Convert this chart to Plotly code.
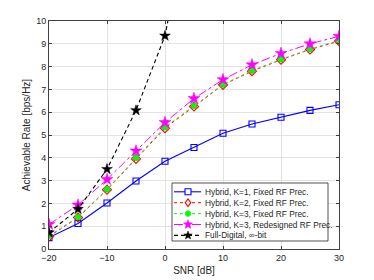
import math
import plotly.graph_objects as go

snr = [-20, -15, -10, -5, 0, 5, 10, 15, 20, 25, 30]
k1_fixed = [0.50, 1.12, 2.02, 2.98, 3.85, 4.45, 5.08, 5.48, 5.78, 6.08, 6.33]
k2_fixed = [0.55, 1.38, 2.60, 3.95, 5.30, 6.25, 7.20, 7.80, 8.30, 8.75, 9.12]
k3_fixed = [0.58, 1.40, 2.62, 4.00, 5.35, 6.28, 7.22, 7.83, 8.32, 8.77, 9.15]
k3_redesigned = [1.08, 1.93, 3.05, 4.30, 5.55, 6.60, 7.43, 8.08, 8.58, 9.00, 9.33]
snr_fd = [-20, -15, -10, -5, 0, 5]
full_digital = [0.72, 1.75, 3.50, 6.08, 9.35, 15.9]

labels = [
    "Hybrid, K=1, Fixed RF Prec.",
    "Hybrid, K=2, Fixed RF Prec.",
    "Hybrid, K=3, Fixed RF Prec.",
    "Hybrid, K=3, Redesigned RF Prec.",
    "Full-Digital, \u221e-bit",
]
x_ticks = [-20, -10, 0, 10, 20, 30]
y_ticks = list(range(0, 11))

BLUE = "#0000ff"
RED = "#ff0000"
GREEN = "#00ff00"
MAG = "#ff00ff"
BLK = "#000000"
FONT = "Liberation Sans, Arial, sans-serif"
TXT = "#262626"
BLACK_DASH = "4px,3px"

fig = go.Figure()
fig.add_trace(go.Scatter(x=snr, y=k1_fixed, mode="lines+markers", name=labels[0],
                         line=dict(color=BLUE, width=1.1),
                         marker=dict(symbol="square-open", size=6, color=BLUE, line=dict(width=1.1))))
fig.add_trace(go.Scatter(x=snr, y=k2_fixed, mode="lines+markers", name=labels[1],
                         line=dict(color=RED, width=1, dash="dot"),
                         marker=dict(symbol="diamond-open", size=7, color=RED, line=dict(width=1.1))))
fig.add_trace(go.Scatter(x=snr, y=k3_fixed, mode="lines+markers", name=labels[2],
                         line=dict(color="#55dd44", width=1, dash="dot"),
                         marker=dict(symbol="circle", size=6, color=GREEN, line=dict(width=0.6, color="#33bb33"))))
fig.add_trace(go.Scatter(x=snr, y=k3_redesigned, mode="lines+markers", name=labels[3],
                         line=dict(color=MAG, width=1, dash="dashdot"),
                         marker=dict(symbol="star", size=9, color=MAG, line=dict(width=0.5, color=MAG))))
fig.add_trace(go.Scatter(x=snr_fd, y=full_digital, mode="lines+markers", name=labels[4],
                         line=dict(color=BLK, width=1.1, dash=BLACK_DASH),
                         marker=dict(symbol="star", size=8, color=BLK, line=dict(width=0.5, color=BLK))))

# The page body has an 8px default margin, so the figure is shrunk by that amount.
OFF = 8
W, H = 374 - OFF, 280 - OFF
# plot area in page pixels: x 49..339, y 21..249
L, R, T, B = 49 - OFF, 374 - 339, 21 - OFF, 280 - 249
pw, ph = W - L - R, H - T - B

def px(x):  # page pixel -> paper
    return (x - OFF - L) / pw

def py(y):
    return (H - B - (y - OFF)) / ph

shapes = []
annotations = []
shapes.append(dict(type="rect", xref="paper", yref="paper",
                   x0=px(172), x1=px(328), y0=py(241), y1=py(183),
                   line=dict(color=TXT, width=0.8), fillcolor="white", layer="above"))

rows = [191.8, 202.7, 213.6, 224.5, 235.4]
styles = [
    (BLUE, "solid", "square", 1.1),
    (RED, "dot", "diamond", 1.0),
    (GREEN, "dot", "circle", 1.0),
    (MAG, "dashdot", "star_m", 1.0),
    (BLK, BLACK_DASH, "star_k", 1.1),
]

def star_path(Rr):
    pts = []
    for k in range(10):
        ang = math.radians(36 * k)
        rr = Rr if k % 2 == 0 else Rr * 0.42
        pts.append((rr * math.sin(ang), rr * math.cos(ang)))
    return "M" + "L".join(f"{a:.2f},{b:.2f}" for a, b in pts) + "Z"

def diamond_path(r):
    return f"M0,{r}L{r*0.75},0L0,{-r}L{-r*0.75},0Z"

for yc, lab, (col, dash, mk, lw) in zip(rows, labels, styles):
    shapes.append(dict(type="line", xref="paper", yref="paper",
                       x0=px(174), x1=px(201), y0=py(yc), y1=py(yc),
                       line=dict(color=col, width=lw, dash=dash), layer="above"))
    common = dict(xref="paper", yref="paper", xsizemode="pixel", ysizemode="pixel",
                  xanchor=px(188), yanchor=py(yc), layer="above")
    if mk == "square":
        shapes.append(dict(type="rect", x0=-3, x1=3, y0=-3, y1=3,
                           line=dict(color=col, width=1.1), fillcolor="white", **common))
    elif mk == "diamond":
        shapes.append(dict(type="path", path=diamond_path(3.8),
                           line=dict(color=col, width=1.1), fillcolor="white", **common))
    elif mk == "circle":
        shapes.append(dict(type="circle", x0=-2.8, x1=2.8, y0=-2.8, y1=2.8,
                           line=dict(color=col, width=0.6), fillcolor=col, **common))
    elif mk == "star_m":
        shapes.append(dict(type="path", path=star_path(4.8),
                           line=dict(color=col, width=0.5), fillcolor=col, **common))
    else:
        shapes.append(dict(type="path", path=star_path(4.4),
                           line=dict(color=col, width=0.5), fillcolor=col, **common))
    annotations.append(dict(xref="paper", yref="paper", x=px(203), y=py(yc),
                            xanchor="left", yanchor="middle", showarrow=False,
                            text=lab, font=dict(family=FONT, size=8.3, color=TXT)))

axis_common = dict(showgrid=True, gridcolor="#e3e3e3", gridwidth=1, zeroline=False,
                   showline=True, linecolor="#404040", linewidth=1, mirror="ticks",
                   ticks="inside", ticklen=3, tickcolor="#404040", automargin=False,
                   tickfont=dict(family=FONT, size=9, color=TXT))

fig.update_layout(
    width=W, height=H,
    margin=dict(l=L, r=R, t=T, b=B, autoexpand=False),
    paper_bgcolor="white", plot_bgcolor="white",
    showlegend=False,
    font=dict(family=FONT, color=TXT),
    xaxis=dict(range=[-20, 30], tickvals=x_ticks,
               title=dict(text="SNR [dB]", font=dict(family=FONT, size=10, color=TXT), standoff=5),
               **axis_common),
    yaxis=dict(range=[0, 10], tickvals=y_ticks,
               title=dict(text="Achievable Rate [bps/Hz]", font=dict(family=FONT, size=10, color=TXT), standoff=3),
               **axis_common),
    shapes=shapes,
    annotations=annotations,
)

fig.write_html("out.html")
